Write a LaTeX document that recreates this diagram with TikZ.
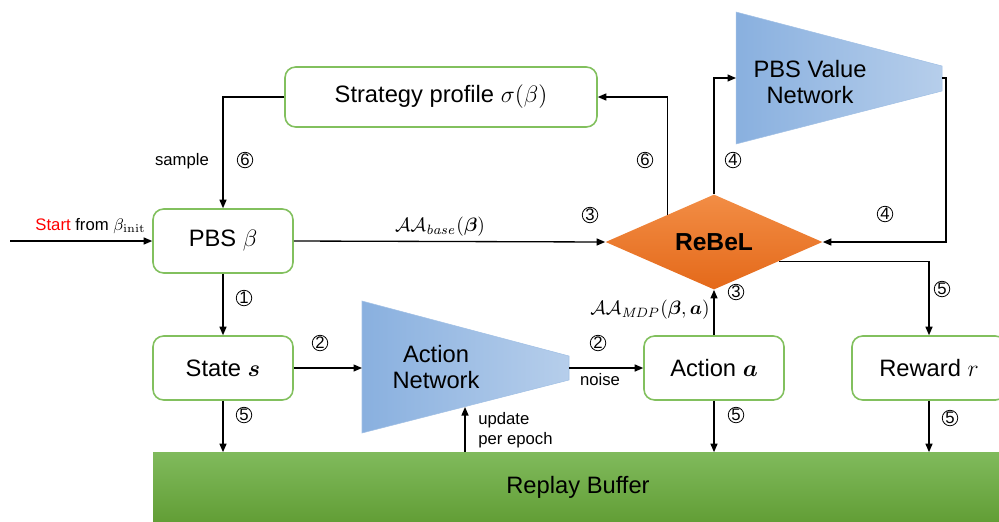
\RequirePackage{fix-cm}
\documentclass[tikz,border=0pt]{standalone}
\usepackage{amsmath,amssymb,bm}
\usepackage[no-math]{fontspec}
\setmainfont{Liberation Sans}
\usetikzlibrary{arrows.meta,positioning,calc,shapes.geometric}
\definecolor{boxedge}{HTML}{82C05E}
\definecolor{netleft}{HTML}{89B0DF}
\definecolor{netright}{HTML}{B6CEEB}
\definecolor{rebeltop}{HTML}{F28D45}
\definecolor{rebelbot}{HTML}{E4691A}
\definecolor{buftop}{HTML}{80BA5C}
\definecolor{bufbot}{HTML}{629E36}
\tikzset{
  stage/.style={draw=boxedge,fill=white,rounded corners=6pt,line width=0.9pt,
    minimum width=2.8cm,minimum height=1.28cm,font=\fontsize{13.5}{16}\selectfont},
  rebelnode/.style={diamond,top color=rebeltop,bottom color=rebelbot,draw=none,
    minimum width=4.34cm,minimum height=1.84cm,inner sep=0pt,
    font=\fontsize{14}{16}\selectfont\bfseries},
  buffer/.style={rectangle,top color=buftop,bottom color=bufbot,draw=none,
    minimum width=17.0cm,minimum height=1.38cm,inner sep=0pt,
    font=\fontsize{13.5}{16}\selectfont},
  netfill/.style={left color=netleft,right color=netright,draw=netleft!80,line width=0.3pt},
  nettext/.style={align=center,font=\fontsize{13.5}{15}\selectfont,inner sep=0pt},
  arrow/.style={-{Triangle[length=1.7mm,width=1.4mm]},line width=0.75pt},
  stepnum/.style={circle,draw,line width=0.45pt,minimum size=0.31cm,inner sep=0pt,
    font=\fontsize{9.5}{10}\selectfont},
  lbl/.style={font=\fontsize{9.5}{11.5}\selectfont,inner sep=0pt},
  mathlbl/.style={font=\fontsize{11}{13}\selectfont,inner sep=0pt}
}
\begin{document}
\begin{tikzpicture}[x=0.02cm,y=-0.02cm]
  \useasboundingbox (0,0) rectangle (999,521);
  % boxes
  \node[stage,minimum width=6.24cm,minimum height=1.2cm] (prof) at (441,97) {Strategy profile $\sigma(\beta)$};
  \node[stage] (pbs) at (223,241) {PBS $\beta$};
  \node[stage] (state) at (223,368) {State $\bm{s}$};
  \node[stage] (act) at (714,368) {Action $\bm{a}$};
  \node[stage,minimum width=3.08cm] (rew) at (929,368) {Reward $r$};
  \node[rebelnode] (rebel) at (714,242) {ReBeL};
  \node[buffer] (buf) at (578,487) {Replay Buffer};
  % networks
  \path[netfill] (362,301) -- (569,356) -- (569,380) -- (362,433) -- cycle;
  \node[nettext] (actnet) at (436,367) {Action\\Network};
  \path[netfill] (736,12) -- (942,66) -- (942,91) -- (736,144) -- cycle;
  \node[nettext] (valnet) at (810,82) {PBS Value\\Network};
  \coordinate (anin) at (362,368);
  \coordinate (anout) at (569,368);
  \coordinate (anbot) at (465,407);
  \coordinate (vnin) at (736,78);
  \coordinate (vnout) at (942,78);
  \coordinate (vnturn) at (946,78);
  \coordinate (start) at (10,241);
  % connectors
  \draw[arrow] (start) -- (pbs.west);
  \draw[arrow] (prof.west) -| (pbs.north);
  \draw[arrow] (pbs) -- (state);
  \draw[arrow] (pbs.east) -- (rebel.west);
  \draw[arrow] (state) -- (anin);
  \draw[arrow] (anout) -- (act);
  \draw[arrow] (act) -- (rebel.south);
  \draw[arrow] ($(rebel.west)!0.57!(rebel.north)$) |- (prof.east);
  \draw[arrow] (rebel.north) |- (vnin);
  \draw[arrow] (vnout) -- (vnturn) |- (rebel.east);
  \draw[arrow] ($(rebel.east)!0.4!(rebel.south)$) -| (rew.north);
  \draw[arrow] (state) -- (state|-buf.north);
  \draw[arrow] (act) -- (act|-buf.north);
  \draw[arrow] (rew) -- (rew|-buf.north);
  \draw[arrow] (anbot|-buf.north) -- (anbot);
  % labels
  \node[lbl,anchor=east] (startlbl) at (146,226) {{\color{red}Start} from $\beta_{\mathrm{init}}$};
  \node[lbl] (samplelbl) at (182,161) {sample};
  \node[lbl] (noiselbl) at (600,380) {noise};
  \node[lbl,align=left,anchor=west] (updlbl) at (478,430) {update\\per epoch};
  \node[mathlbl] (baselbl) at (440,227) {$\mathcal{A}\mathcal{A}_{\mathit{base}}(\bm\beta)$};
  \node[mathlbl] (mdplbl) at (650,310) {$\mathcal{A}\mathcal{A}_{\mathit{MDP}}(\bm\beta,\bm a)$};
  \node[stepnum] at (245,160) {6};
  \node[stepnum] at (244,298) {1};
  \node[stepnum] at (590,215) {3};
  \node[stepnum] at (320,343) {2};
  \node[stepnum] at (598,343) {2};
  \node[stepnum] at (736,292) {3};
  \node[stepnum] at (645,160) {6};
  \node[stepnum] at (733,160) {4};
  \node[stepnum] at (885,214) {4};
  \node[stepnum] at (942,289) {5};
  \node[stepnum] at (244,415) {5};
  \node[stepnum] at (736,415) {5};
  \node[stepnum] at (950,418) {5};
\end{tikzpicture}
\end{document}
